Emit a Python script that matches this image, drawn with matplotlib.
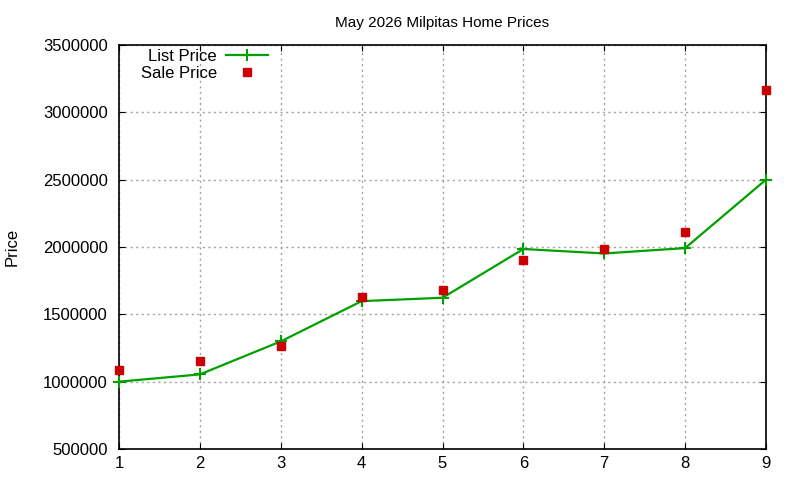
import matplotlib
matplotlib.use("Agg")
import matplotlib.pyplot as plt
from matplotlib.ticker import FuncFormatter, MultipleLocator

plt.rcParams['font.family'] = ['Liberation Sans', 'DejaVu Sans']

months = [1, 2, 3, 4, 5, 6, 7, 8, 9]
list_price = [1000000, 1054000, 1299000, 1598000, 1623000, 1985000, 1952000, 1992000, 2500000]
sale_price = [1088000, 1157000, 1262000, 1628000, 1682000, 1905000, 1982000, 2108000, 3164000]

fig = plt.figure(figsize=(8, 4.8), dpi=100)
ax = fig.add_axes([119/800, 31/480, 647/800, 404/480])

ax.plot(months, list_price, color='#00a000', lw=1.6, marker='+', ms=9, mew=1.5,
        label='List Price', clip_on=False, zorder=3)
ax.plot(months, sale_price, ls='none', color='#cc0000', marker='s', ms=6,
        label='Sale Price', clip_on=False, zorder=4)

ax.set_xlim(1, 9)
ax.set_ylim(500000, 3500000)
ax.xaxis.set_major_locator(MultipleLocator(1))
ax.yaxis.set_major_locator(MultipleLocator(500000))
ax.yaxis.set_major_formatter(FuncFormatter(lambda v, p: '%d' % v))
ax.grid(True, color='#a0a0a0', ls=(0, (1.5, 2.5)), lw=1)
ax.tick_params(direction='in', top=True, right=True, length=4.5, labelsize=12)
ax.tick_params(axis='y', pad=8)
ax.tick_params(axis='x', pad=5)
for s in ax.spines.values():
    s.set_linewidth(1.2)

ax.set_title('May 2026 Milpitas Home Prices', fontsize=11, pad=13)
ax.set_ylabel('Price', fontsize=12, labelpad=17)

ax.legend(loc='upper left', bbox_to_anchor=(0.0, 1.0), frameon=False, markerfirst=False,
          fontsize=12, handlelength=2.5, handletextpad=0.55, labelspacing=0.1,
          borderaxespad=0.0, borderpad=0.0)
leg = ax.get_legend()
for t in leg.get_texts():
    t.set_ha('right')
leg.set_bbox_to_anchor((22/647, 1.0 - 4/404), transform=ax.transAxes)

fig.savefig('out.png', dpi=100)
